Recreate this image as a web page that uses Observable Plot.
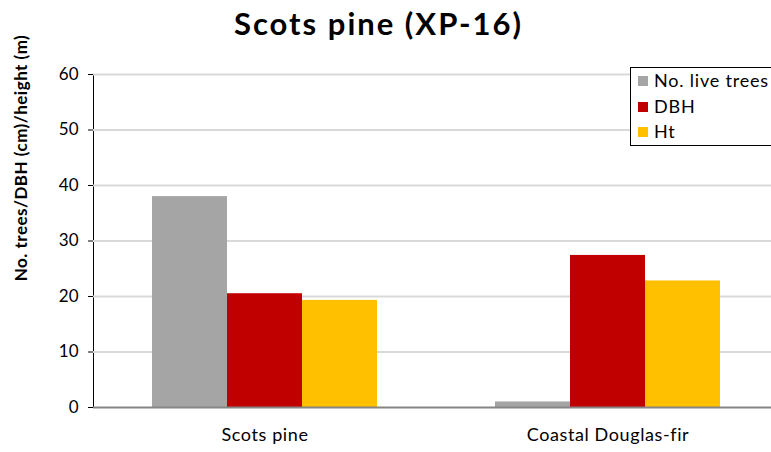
<!DOCTYPE html>
<html>
<head>
<meta charset="utf-8">
<script src="https://cdn.jsdelivr.net/npm/d3@7"></script>
<script src="https://cdn.jsdelivr.net/npm/@observablehq/plot@0.6"></script>
<style>
  html, body { margin: 0; padding: 0; background: #fff; overflow: hidden; }
  body { width: 771px; height: 452px; position: relative; font-family: Lato, "Open Sans", sans-serif; }
  #title { height: 45px; line-height: 46px; text-align: center; font-weight: bold; font-size: 31px; letter-spacing: 2px; color: #000; padding-right: 14px; }
  #legend { position: absolute; left: 630px; top: 67px; width: 150px; height: 77px; border: 1px solid #000; background: #fff; font-size: 18px; letter-spacing: 0.8px; }
  #legend .item { position: absolute; left: 7px; height: 20px; line-height: 20px; white-space: nowrap; }
  #legend .sw { display: inline-block; width: 10px; height: 10px; margin-right: 6px; vertical-align: 1px; }
  #ylabel { position: absolute; left: 20px; top: 158px; transform: translate(-50%, -50%) rotate(-90deg); white-space: nowrap; font-weight: bold; font-size: 17px; letter-spacing: 0.5px; }
</style>
</head>
<body>
<div id="title">Scots pine (XP-16)</div>
<div id="chart"></div>
<div id="ylabel">No. trees/DBH (cm)/height (m)</div>
<div id="legend"></div>
<script>
// Stand measurements per species
const categories = ["Scots pine", "Coastal Douglas-fir"];
const series = ["No. live trees", "DBH", "Ht"];
const liveTrees = [38.0, 1.0];
const dbh = [20.5, 27.4];
const ht = [19.3, 22.8];
const colors = ["#a5a5a5", "#c00000", "#ffc000"];
const yTicks = [0, 10, 20, 30, 40, 50, 60];

const valuesBySeries = [liveTrees, dbh, ht];
const rows = categories.flatMap((category, i) =>
  series.map((s, j) => ({category, series: s, value: valuesBySeries[j][i]}))
);

const chart = Plot.plot({
  width: 771,
  height: 407,
  marginLeft: 93,
  marginRight: -8,
  marginTop: 29,
  marginBottom: 45,
  style: {fontFamily: "Lato, 'Open Sans', sans-serif", fontSize: "17px", color: "#000", background: "transparent"},
  fx: {domain: categories, padding: 0, label: null, tickSize: 0, tickPadding: 21},
  x: {domain: series, paddingInner: 0, paddingOuter: 0.767, axis: null},
  y: {domain: [0, 60], ticks: yTicks, label: null, tickSize: 5, tickPadding: 10, line: true},
  color: {domain: series, range: colors},
  marks: [
    Plot.ruleY(yTicks.slice(1), {stroke: "#d9d9d9", strokeWidth: 2}),
    Plot.barY(rows, {fx: "category", x: "series", y: "value", fill: "series", inset: 0}),
    Plot.ruleY([0], {stroke: "#868686", strokeWidth: 2})
  ]
});
document.getElementById("chart").appendChild(chart);

// Category labels are drawn slightly letter-spaced
chart.querySelectorAll("[aria-label='fx-axis tick label'] text").forEach(t => {
  t.style.fontSize = "18px";
  t.style.letterSpacing = "0.6px";
});

// Legend box
const legend = document.getElementById("legend");
series.forEach((s, i) => {
  const item = document.createElement("div");
  item.className = "item";
  item.style.top = (2 + i * 25.5) + "px";
  item.innerHTML = `<span class="sw" style="background:${colors[i]}"></span>${s}`;
  legend.appendChild(item);
});
</script>
</body>
</html>
